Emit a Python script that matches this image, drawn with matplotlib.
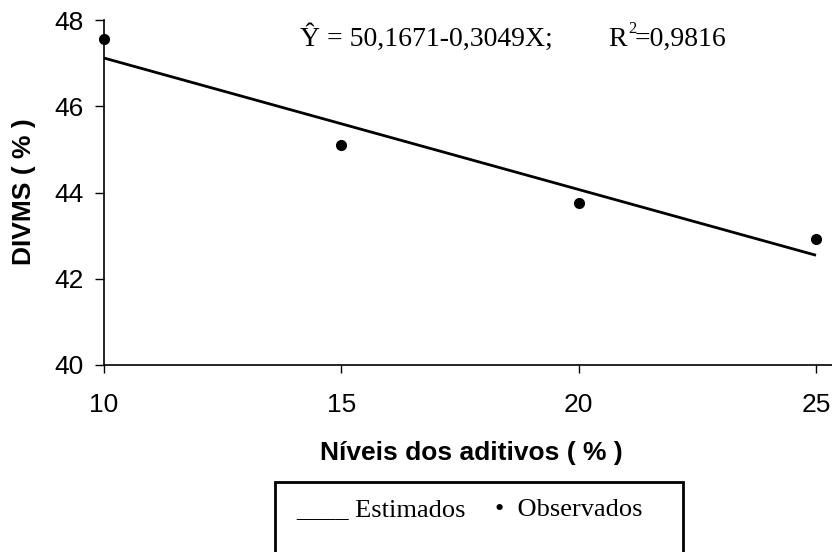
import matplotlib.pyplot as plt
from matplotlib.patches import Rectangle
import numpy as np

# observed data
niveis = [10, 15, 20, 25]
divms_obs = [47.57, 45.10, 43.75, 42.92]

# regression coefficients
b0 = 50.1671
b1 = -0.3049
r2 = 0.9816

x_ticks = [10, 15, 20, 25]
y_ticks = [40, 42, 44, 46, 48]

fig = plt.figure(figsize=(8.32, 5.52), dpi=100)
ax = fig.add_axes([104/832, (552-365)/552, 1 - 104/832, 345/552])

x_fit = np.array([niveis[0], niveis[-1]])
y_fit = b0 + b1*x_fit
ax.plot(x_fit, y_fit, color="black", lw=2, solid_capstyle="butt", clip_on=False)
ax.plot(niveis, divms_obs, "o", color="black", ms=7, clip_on=False)

ax.set_xlim(10, 25 + 16/47.47)
ax.set_ylim(40, 48)
ax.set_xticks(x_ticks)
ax.set_yticks(y_ticks)
ax.spines["top"].set_visible(False)
ax.spines["right"].set_visible(False)
for s in ["left", "bottom"]:
    ax.spines[s].set_linewidth(1.2)
ax.tick_params(axis="x", direction="out", length=6, width=1, pad=14)
ax.tick_params(axis="y", direction="out", length=6.5, width=1, pad=8)
for lab in ax.get_xticklabels() + ax.get_yticklabels():
    lab.set_fontfamily("Liberation Sans")
    lab.set_fontsize(19)

fig.text(471/832, 1 - 453/552, "Níveis dos aditivos ( % )", ha="center", va="center",
         fontsize=19, fontweight="bold", family="Liberation Sans")
fig.text(24/832, 1 - 192/552, "DIVMS ( % )", ha="center", va="center", rotation=90,
         fontsize=19, fontweight="bold", family="Liberation Sans")

eq = "Ŷ = " + f"{b0:.4f}".replace(".", ",") + f"{b1:.4f}".replace(".", ",") + "X;"
fig.text(300/832, 1 - 46/552, eq, ha="left", va="baseline", fontsize=20, family="Liberation Serif")
fig.text(608/832, 1 - 46/552, "R", ha="left", va="baseline", fontsize=20, family="Liberation Serif")
fig.text(628/832, 1 - 33/552, "2", ha="left", va="baseline", fontsize=12, family="Liberation Serif")
fig.text(635/832, 1 - 46/552, "=" + f"{r2:.4f}".replace(".", ","), ha="left", va="baseline",
         fontsize=20, family="Liberation Serif")

# legend box
fig.patches.append(Rectangle((275/832, -0.05), (683-275)/832, 0.05 + (552-482)/552,
                             transform=fig.transFigure, fill=False, ec="black", lw=2))
fig.text(296/832, 1 - 510/552, "____ Estimados", ha="left", va="center", fontsize=19,
         family="Liberation Serif")
fig.text(495/832, 1 - 510/552, "•  Observados", ha="left", va="center", fontsize=19,
         family="Liberation Serif")

fig.savefig("out.png", dpi=100)
